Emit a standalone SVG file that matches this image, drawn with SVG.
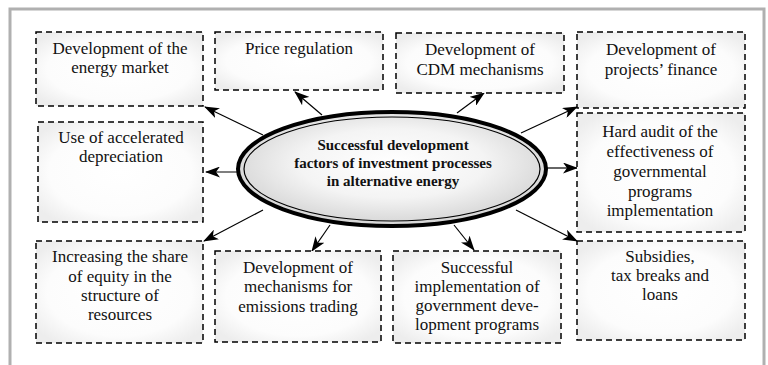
<svg xmlns="http://www.w3.org/2000/svg" width="768" height="365" viewBox="0 0 768 365">
<defs>
<radialGradient id="boxg" cx="50%" cy="50%" r="62%">
<stop offset="0" stop-color="#ffffff"/>
<stop offset="0.7" stop-color="#fcfcfc"/>
<stop offset="1" stop-color="#ededed"/>
</radialGradient>
<radialGradient id="ellg" cx="50%" cy="45%" r="55%">
<stop offset="0" stop-color="#ffffff"/>
<stop offset="0.55" stop-color="#f4f4f4"/>
<stop offset="1" stop-color="#d4d4d4"/>
</radialGradient>
<marker id="ah" viewBox="0 0 15 11" refX="14" refY="5.5" markerWidth="15" markerHeight="11" markerUnits="userSpaceOnUse" orient="auto">
<path d="M0,0 L15,5.5 L0,11 L4,5.5 z" fill="#000"/>
</marker>
</defs>
<style>
.box{fill:url(#boxg);stroke:#000;stroke-width:1.5;stroke-dasharray:6 4}
.t{font-family:"Liberation Serif","Times New Roman","DejaVu Serif",serif;font-size:17px;fill:#111;text-anchor:middle}
.tb{font-family:"Liberation Serif","Times New Roman","DejaVu Serif",serif;font-size:15px;font-weight:bold;fill:#111;text-anchor:middle}
.arr{stroke:#000;stroke-width:1.2;fill:none;marker-end:url(#ah)}
</style>
<rect x="0" y="0" width="768" height="365" fill="#fff"/>
<rect x="10" y="9" width="754" height="380" fill="#fff" stroke="#b0b0b0" stroke-width="3"/>

<g id="connectors">
<line class="arr" x1="263" y1="135" x2="205" y2="107"/>
<line class="arr" x1="322" y1="115" x2="295" y2="92"/>
<line class="arr" x1="240" y1="172" x2="206" y2="172"/>
<line class="arr" x1="457" y1="113" x2="484" y2="93"/>
<line class="arr" x1="521" y1="133" x2="577" y2="107"/>
<line class="arr" x1="545" y1="168" x2="577" y2="168"/>
<line class="arr" x1="263" y1="210" x2="204" y2="241"/>
<line class="arr" x1="330" y1="225" x2="312" y2="251"/>
<line class="arr" x1="454" y1="225" x2="474" y2="250"/>
<line class="arr" x1="516" y1="210" x2="577" y2="241"/>
</g>

<g id="center">
<ellipse cx="392" cy="169" rx="154" ry="57" fill="url(#ellg)" stroke="#000" stroke-width="4"/>
<ellipse cx="392" cy="169" rx="148" ry="52" fill="none" stroke="#000" stroke-width="1.2"/>
<text class="tb" x="393" y="150">Successful development</text>
<text class="tb" x="393" y="168">factors of investment processes</text>
<text class="tb" x="393" y="186">in alternative energy</text>
</g>

<g id="n-energy-market">
<rect class="box" x="36" y="32" width="167" height="74"/>
<text class="t" x="120" y="54">Development of the</text>
<text class="t" x="120" y="73">energy market</text>
</g>

<g id="n-price">
<rect class="box" x="215" y="32" width="168" height="58"/>
<text class="t" x="299" y="54">Price regulation</text>
</g>

<g id="n-cdm">
<rect class="box" x="396" y="33" width="168" height="60"/>
<text class="t" x="480" y="55">Development of</text>
<text class="t" x="480" y="75">CDM mechanisms</text>
</g>

<g id="n-finance">
<rect class="box" x="577" y="32" width="168" height="76"/>
<text class="t" x="661" y="55">Development of</text>
<text class="t" x="661" y="75">projects’ finance</text>
</g>

<g id="n-depreciation">
<rect class="box" x="38" y="122" width="165" height="100"/>
<text class="t" x="121" y="143">Use of accelerated</text>
<text class="t" x="121" y="162">depreciation</text>
</g>

<g id="n-audit">
<rect class="box" x="577" y="113" width="168" height="119"/>
<text class="t" x="660" y="137">Hard audit of the</text>
<text class="t" x="660" y="157">effectiveness of</text>
<text class="t" x="660" y="177">governmental</text>
<text class="t" x="660" y="197">programs</text>
<text class="t" x="660" y="216">implementation</text>
</g>

<g id="n-equity">
<rect class="box" x="36" y="241" width="167" height="102"/>
<text class="t" x="120" y="262">Increasing the share</text>
<text class="t" x="120" y="282">of equity in the</text>
<text class="t" x="120" y="301">structure of</text>
<text class="t" x="120" y="320">resources</text>
</g>

<g id="n-emissions">
<rect class="box" x="215" y="251" width="166" height="91"/>
<text class="t" x="298" y="273">Development of</text>
<text class="t" x="298" y="292">mechanisms for</text>
<text class="t" x="298" y="312">emissions trading</text>
</g>

<g id="n-gov-programs">
<rect class="box" x="393" y="251" width="168" height="92"/>
<text class="t" x="477" y="273">Successful</text>
<text class="t" x="477" y="292">implementation of</text>
<text class="t" x="477" y="311">government deve-</text>
<text class="t" x="477" y="330">lopment programs</text>
</g>

<g id="n-subsidies">
<rect class="box" x="577" y="241" width="168" height="99"/>
<text class="t" x="660" y="262">Subsidies,</text>
<text class="t" x="660" y="281">tax breaks and</text>
<text class="t" x="660" y="300">loans</text>
</g>
</svg>
